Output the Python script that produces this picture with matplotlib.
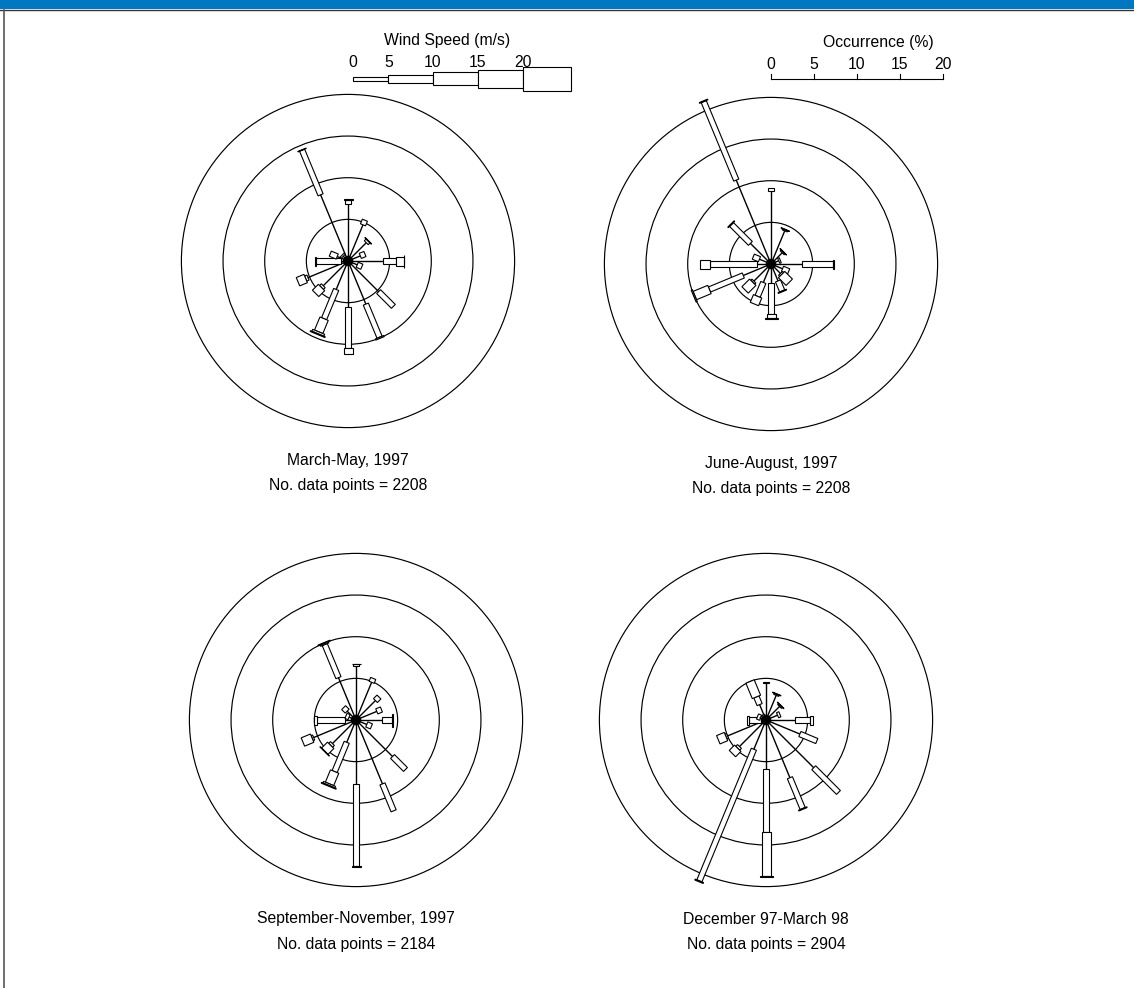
"""Seasonal wind roses, 1997-98: four panels, 16 directions, 5 speed classes."""
import matplotlib
matplotlib.use("Agg")
import matplotlib.pyplot as plt
from matplotlib.patches import Rectangle, Circle
from matplotlib.lines import Line2D
from matplotlib.transforms import Affine2D
import numpy as np

plt.rcParams['font.family'] = ['Liberation Sans', 'DejaVu Sans']

# bearings (deg clockwise from N): N, NNE, ... NNW
DIRS = np.arange(16) * 22.5
SPEED_TICKS = ["0", "5", "10", "15", "20"]
OCC_TICKS = [0, 5, 10, 15, 20]
RINGS = [5, 10, 15, 20]

# occurrence (%) per direction for classes 0-5, 5-10, 10-15, 15-20, >20 m/s
MAM = [[6.9, 0.4, 0.1, 0, 0], [4.7, 0.6, 0, 0, 0], [3.1, 0.3, 0.06, 0, 0],
       [1.6, 0.6, 0, 0, 0], [4.2, 1.6, 0.9, 0.08, 0], [1.2, 0.6, 0, 0, 0],
       [5.2, 2.5, 0, 0, 0], [5.6, 4.3, 0.15, 0, 0], [5.5, 5.0, 0.7, 0, 0],
       [3.7, 3.8, 1.7, 0.25, 0.1], [4.2, 0.3, 1.0, 0, 0], [5.2, 0.3, 1.0, 0, 0],
       [0.8, 3.1, 0.1, 0, 0], [1.4, 0.9, 0, 0, 0], [0.8, 0.2, 0, 0, 0],
       [8.6, 5.8, 0.05, 0, 0]]
JJA = [[8.8, 0.3, 0, 0, 0], [4.3, 0.15, 0.05, 0, 0], [1.9, 0.15, 0.05, 0, 0],
       [1.0, 0.2, 0, 0, 0], [3.7, 3.8, 0.1, 0, 0], [1.5, 0.8, 0, 0, 0],
       [1.6, 0.2, 1.3, 0, 0], [2.2, 1.3, 0.1, 0, 0], [2.3, 3.7, 0.5, 0.12, 0],
       [2.4, 1.8, 1.0, 0, 0], [2.9, 0.2, 1.3, 0, 0], [3.6, 4.4, 1.9, 0.15, 0],
       [1.7, 5.6, 1.2, 0, 0], [1.5, 0.8, 0, 0, 0], [3.5, 3.2, 0.1, 0, 0],
       [10.9, 10.2, 0.1, 0, 0]]
SON = [[6.5, 0.2, 0.08, 0, 0], [4.9, 0.5, 0, 0, 0], [3.3, 0.6, 0, 0, 0],
       [2.7, 0.6, 0, 0, 0], [3.1, 1.2, 0, 0.1, 0], [1.4, 0.6, 0, 0, 0],
       [6.2, 2.2, 0, 0, 0], [8.3, 3.5, 0, 0, 0], [7.7, 9.8, 0.1, 0, 0],
       [2.9, 3.8, 1.6, 0.2, 0.1], [4.0, 0.3, 1.0, 0.05, 0], [5.5, 0.2, 1.2, 0, 0],
       [1.3, 3.4, 0.4, 0, 0], [0.9, 0.4, 0, 0, 0], [1.5, 0.6, 0, 0, 0],
       [5.5, 4.3, 0.15, 0.1, 0]]
DJF = [[4.4, 0.2, 0, 0, 0], [3.2, 0.15, 0.05, 0, 0], [2.3, 0.15, 0.05, 0, 0],
       [1.5, 0.3, 0, 0, 0], [3.5, 1.8, 0.35, 0, 0], [4.4, 2.2, 0, 0, 0],
       [8.1, 4.2, 0, 0, 0], [7.5, 4.0, 0.1, 0, 0], [5.9, 7.5, 5.3, 0.15, 0],
       [3.8, 17.1, 0.12, 0, 0], [4.5, 0.3, 0.9, 0, 0], [5.0, 0.2, 1.0, 0, 0],
       [0.6, 1.5, 0.2, 0, 0], [0.7, 0.4, 0, 0, 0], [0.5, 0.2, 0, 0, 0],
       [2.0, 1.0, 2.0, 0, 0]]

TITLES = ["March-May, 1997", "June-August, 1997",
          "September-November, 1997", "December 97-March 98"]
NPOINTS = [2208, 2208, 2184, 2904]
SEASONS = [MAM, JJA, SON, DJF]

W, H = 1134, 988
PX = 8.33            # pixels per % occurrence
HALF = 23.0          # half range of each rose axes, in %
CENTERS = [(348, 261), (771, 264), (356, 720), (766, 720)]
BOX_PX = [None, 5.5, 9, 13, 16]   # drawn width of each speed class
LEG_EDGES = [352.7, 388.3, 432.7, 477.7, 523.3, 570.7]
LEG_H = [4, 8.3, 13, 18, 23.7]
FS = 11.3

fig = plt.figure(figsize=(W / 100, H / 100), dpi=100)

# page frame
fig.add_artist(Rectangle((0, 1 - 9 / H), 1, 9 / H, transform=fig.transFigure,
                         color="#0077c1", lw=0))
fig.add_artist(Line2D([0, 1], [1 - 9.8 / H] * 2, transform=fig.transFigure,
                      color="#333333", lw=1.0))
fig.add_artist(Line2D([4 / W] * 2, [0, 1 - 9.8 / H], transform=fig.transFigure,
                      color="#555555", lw=1.2))


def draw_rose(ax, data):
    for r in RINGS:
        ax.add_patch(Circle((0, 0), r, fill=False, lw=0.85, ec="black", zorder=1))
    for theta, segs in zip(DIRS, data):
        tr = Affine2D().rotate_deg(-theta) + ax.transData
        r0 = segs[0]
        ax.add_line(Line2D([0, 0], [0, r0], color="black", lw=1.0,
                           transform=tr, zorder=2))
        for k in range(1, 5):
            L = segs[k]
            if L <= 0:
                continue
            w = BOX_PX[k] / PX
            ax.add_patch(Rectangle((-w / 2, r0), w, L, transform=tr,
                                   fc="white", ec="black", lw=0.8, zorder=3))
            r0 += L
    ax.add_patch(Circle((0, 0), 0.55, color="black", zorder=4))


for (cx, cy), data, title, n in zip(CENTERS, SEASONS, TITLES, NPOINTS):
    s = HALF * PX
    ax = fig.add_axes([(cx - s) / W, 1 - (cy + s) / H, 2 * s / W, 2 * s / H])
    ax.set_xlim(-HALF, HALF)
    ax.set_ylim(-HALF, HALF)
    ax.set_aspect("equal")
    ax.axis("off")
    draw_rose(ax, data)
    ax.text(0, -199 / PX, title, ha="center", va="center", fontsize=FS)
    ax.text(0, -224 / PX, f"No. data points = {n}", ha="center",
            va="center", fontsize=FS)

# legends in pixel space
lax = fig.add_axes([0, 0, 1, 1])
lax.set_xlim(0, W)
lax.set_ylim(H, 0)
lax.axis("off")

# wind speed key
lax.text(447, 41, "Wind Speed (m/s)", ha="center", va="center", fontsize=FS)
for i, h in enumerate(LEG_H):
    x0, x1 = LEG_EDGES[i], LEG_EDGES[i + 1]
    lax.add_patch(Rectangle((x0, 79 - h / 2), x1 - x0, h, fc="white",
                            ec="black", lw=0.8))
for x, lab in zip(LEG_EDGES, SPEED_TICKS):
    lax.text(x, 62.5, lab, ha="center", va="center", fontsize=FS)

# occurrence scale
ox0, ox1, oy = 770.7, 942.7, 79.3
lax.plot([ox0, ox1], [oy, oy], color="black", lw=0.8)
for v in OCC_TICKS:
    x = ox0 + v * (ox1 - ox0) / OCC_TICKS[-1]
    lax.plot([x, x], [oy, oy - 5], color="black", lw=0.8)
    lax.text(x, 64.5, str(v), ha="center", va="center", fontsize=FS)
lax.text(878, 43, "Occurrence (%)", ha="center", va="center", fontsize=FS)

fig.savefig("out.png", dpi=100)
